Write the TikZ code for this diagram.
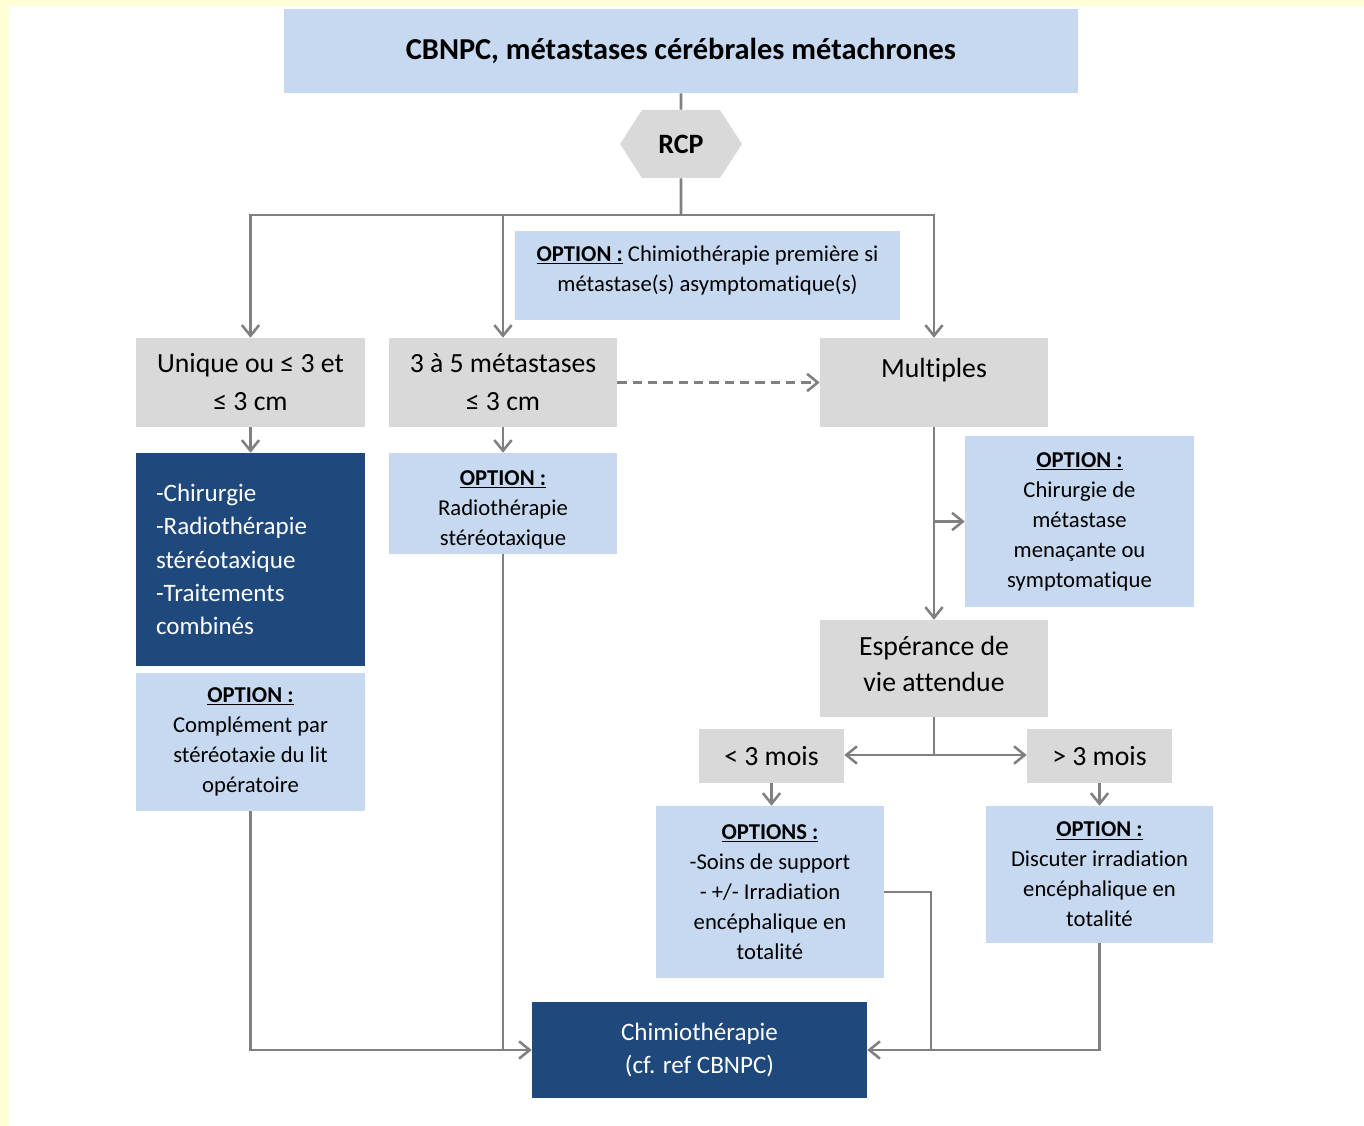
\documentclass[tikz,border=0pt]{standalone}
\usepackage{fontspec}
\setmainfont{Carlito}[Ligatures=NoCommon]
\usetikzlibrary{arrows.meta,shapes.symbols}

\definecolor{fondjaune}{HTML}{FFFFD5}
\definecolor{bleuclair}{HTML}{C6D9F1}
\definecolor{gris}{HTML}{D9D9D9}
\definecolor{bleufonce}{HTML}{1F497D}
\definecolor{trait}{HTML}{808080}

\tikzset{
  boxsize/.style 2 args={minimum width=#1*0.75pt, minimum height=#2*0.75pt},
  grisbox/.style={fill=gris, inner sep=0pt, align=center, font=\fontsize{20.8}{28.5}\selectfont},
  optbox/.style={fill=bleuclair, inner sep=0pt, align=center, font=\fontsize{17}{22.5}\selectfont},
  foncebox/.style={fill=bleufonce, text=white, inner sep=0pt, font=\fontsize{18.8}{25}\selectfont},
  lien/.style={draw=trait, line width=1.9pt},
  fleche/.style={lien, -{Straight Barb[length=8pt, width=13pt]}},
}
\newcommand{\opt}[1]{\underline{\textbf{#1}}}

\begin{document}
\begin{tikzpicture}[x=0.75pt, y=-0.75pt]
  % fond
  \fill[fondjaune] (0,0) rectangle (1364,1126);
  \fill[white] (9,6) rectangle (1364,1126);
  \useasboundingbox (0,0) rectangle (1364,1126);

  % boites
  \node[fill=bleuclair, boxsize={794}{84}, font=\fontsize{22.8}{26}\selectfont\bfseries] (titre) at (681,51) {CBNPC, métastases cérébrales métachrones};
  \node[signal, signal to=west and east, signal pointer angle=114, fill=gris, boxsize={122}{68}, inner sep=0pt, font=\fontsize{21}{25}\selectfont\bfseries] (rcp) at (681,144) {RCP};
  \node[optbox, boxsize={385}{89}, text depth=10pt] (optchim) at (707.5,275.5) {\opt{OPTION :} Chimiothérapie première si\\métastase(s) asymptomatique(s)};

  \node[grisbox, boxsize={229}{89}] (unique) at (250.5,382.5) {Unique ou ≤ 3 et\\≤ 3 cm};
  \node[grisbox, boxsize={228}{89}] (cinq) at (503,382.5) {3 à 5 métastases\\≤ 3 cm};
  \node[grisbox, boxsize={228}{89}, text depth=22pt] (multi) at (934,382.5) {Multiples};

  \node[foncebox, boxsize={229}{213}, text width=141.75pt, align=left] (chir) at (250.5,559.5) {-Chirurgie\\-Radiothérapie\\stéréotaxique\\-Traitements\\combinés};
  \node[optbox, boxsize={229}{138}] (optlit) at (250.5,742) {\opt{OPTION :}\\Complément par\\stéréotaxie du lit\\opératoire};
  \node[optbox, boxsize={228}{101}, text height=66pt] (optradio) at (503,503.5) {\opt{OPTION :}\\Radiothérapie\\stéréotaxique};
  \node[optbox, boxsize={229}{171}] (optmeta) at (1079.5,521.5) {\opt{OPTION :}\\Chirurgie de\\métastase\\menaçante ou\\symptomatique};

  \node[grisbox, boxsize={228}{97}, text depth=7.5pt, font=\fontsize{20.8}{27}\selectfont] (esper) at (934,668.5) {Espérance de\\vie attendue};
  \node[grisbox, boxsize={145}{54}] (moins) at (771.5,756) {< 3 mois};
  \node[grisbox, boxsize={145}{54}] (plus) at (1099.5,756) {> 3 mois};
  \node[optbox, boxsize={228}{172}] (optsoins) at (770,892) {\opt{OPTIONS :}\\-Soins de support\\- +/- Irradiation\\encéphalique en\\totalité};
  \node[optbox, boxsize={227}{137}] (optdisc) at (1099.5,874.5) {\opt{OPTION :}\\Discuter irradiation\\encéphalique en\\totalité};

  \node[foncebox, boxsize={335}{96}, align=center] (chimio) at (699.5,1050) {Chimiothérapie\\(cf. ref CBNPC)};

  % liens
  \coordinate (split) at (681,215);
  \coordinate (branche) at (934,521.5);
  \coordinate (fourche) at (934,755);
  \coordinate (jonction) at (931,1050);

  \draw[lien] (titre) -- (rcp);
  \draw[lien] (rcp) -- (split);
  \draw[fleche] (split) -| (unique);
  \draw[fleche] (split) -| (cinq);
  \draw[fleche] (split) -| (multi);
  \draw[fleche] (unique) -- (chir);
  \draw[fleche] (cinq) -- (optradio);
  \draw[fleche, dash pattern=on 7pt off 4.5pt] (cinq) -- (multi);
  \draw[fleche] (multi) -- (esper);
  \draw[fleche] (branche) -- (optmeta);
  \draw[lien] (esper) -- (fourche);
  \draw[fleche] (fourche) -- (fourche -| moins.east);
  \draw[fleche] (fourche) -- (fourche -| plus.west);
  \draw[fleche] (moins.south) -- (moins.south |- optsoins.north);
  \draw[fleche] (plus) -- (optdisc);
  \draw[fleche] (optlit) |- (chimio);
  \draw[lien] (optradio) -- (optradio |- chimio.west);
  \draw[lien] (optsoins.east) -| (jonction);
  \draw[lien] (optdisc) |- (jonction);
  \draw[fleche] (jonction) -- (chimio.east);
\end{tikzpicture}
\end{document}
